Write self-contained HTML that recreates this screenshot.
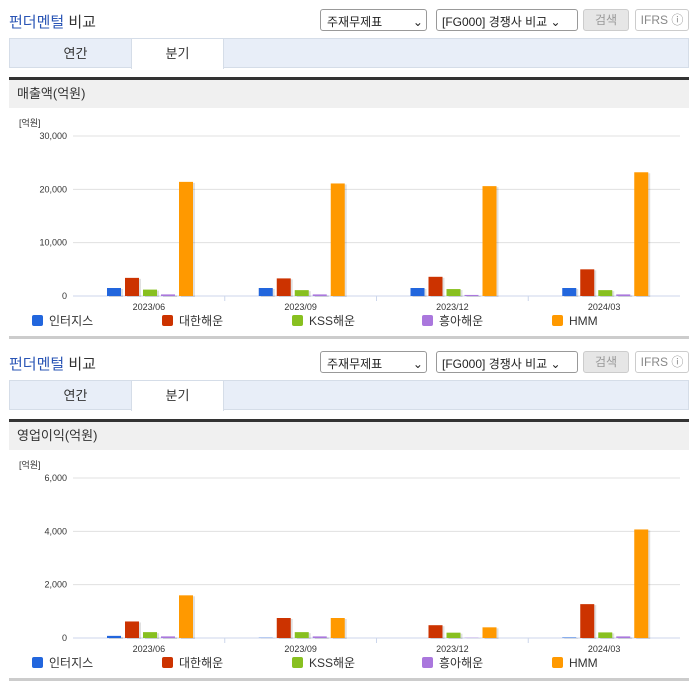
<!DOCTYPE html>
<html><head><meta charset="utf-8">
<style>
body{margin:0;width:696px;height:684px;background:#fff;font-family:"Liberation Sans","Noto Sans CJK KR",sans-serif;position:relative;overflow:hidden}
.abs{position:absolute}
.title{left:9px;font-size:15px;color:#333}
.title b{color:#2a55b5;font-weight:normal}
.sel{height:22px;border:1px solid #999;border-radius:3px;font-size:12px;color:#222;box-sizing:border-box;padding:3px 6px;background:#fff;white-space:nowrap;overflow:hidden}
.btn{height:22px;border:1px solid #ccc;border-radius:3px;font-size:12px;box-sizing:border-box;text-align:center;line-height:20px}
.tabs{left:9px;width:680px;height:30px;background:#e8eef8;border:1px solid #d5dde8;box-sizing:border-box}
.tab{top:0;height:29px;line-height:29px;font-size:13px;text-align:center;width:91px;color:#333}
.hdr{left:9px;width:672px;height:28px;background:#f0f0f0;border-top:3px solid #333;font-size:13px;line-height:28px;padding-left:8px;color:#333}
.line{left:9px;width:680px;height:3px;background:#ccc}
</style></head><body>
<div id="sections"></div>
<script>
const categories=["2023/06","2023/09","2023/12","2024/03"];
const seriesNames=["인터지스","대한해운","KSS해운","흥아해운","HMM"];
const colors=["#2266dd","#cc3300","#88c020","#aa77dd","#ff9900"];
const sales_interjis=[1500,1500,1500,1500];
const sales_daehan=[3400,3300,3600,5000];
const sales_kss=[1200,1100,1300,1100];
const sales_heunga=[300,300,200,300];
const sales_hmm=[21400,21100,20600,23200];
const salesTicks=[0,10000,20000,30000];
const op_interjis=[80,10,0,20];
const op_daehan=[620,750,480,1270];
const op_kss=[220,220,200,210];
const op_heunga=[60,60,10,60];
const op_hmm=[1600,750,400,4070];
const opTicks=[0,2000,4000,6000];

function el(tag,cls,css,txt){const e=document.createElement(tag);if(cls)e.className=cls;if(css)e.style.cssText=css;if(txt!=null)e.textContent=txt;return e;}
const root=document.getElementById('sections');
function section(off,hdrText,series,ticks,max){
 const t=el('div','abs title','top:'+(off+11)+'px');t.innerHTML='<b>펀더멘털</b> 비교';
 root.appendChild(t);
 const s1=el('div','abs sel','left:320px;top:'+(off+9)+'px;width:107px','주재무제표 　　 ⌄');
 root.appendChild(s1);
 const s2=el('div','abs sel','left:436px;top:'+(off+9)+'px;width:142px;padding-left:5px','[FG000] 경쟁사 비교 ⌄');
 root.appendChild(s2);
 const b1=el('div','abs btn','left:583px;top:'+(off+9)+'px;width:46px;background:#e6e6e6;color:#999','검색');
 root.appendChild(b1);
 const b2=el('div','abs btn','left:635px;top:'+(off+9)+'px;width:54px;color:#888','IFRS ⓘ');
 root.appendChild(b2);
 const tabs=el('div','abs tabs','top:'+(off+38)+'px');
 
 const ta=el('div','abs tab','left:20px','연간');tabs.appendChild(ta);
 const tq=el('div','abs tab','left:121px;background:#fff;height:30px;border-left:1px solid #d5dde8;border-right:1px solid #d5dde8','분기');tabs.appendChild(tq);
 root.appendChild(tabs);
 const h=el('div','abs hdr','top:'+(off+77)+'px',hdrText);root.appendChild(h);
 const NS='http://www.w3.org/2000/svg';
 const svg=document.createElementNS(NS,'svg');svg.setAttribute('width',696);svg.setAttribute('height',230);
 svg.style.cssText='position:absolute;left:0;top:'+(off+110)+'px';
 
 const y0=186,yTop=26,x0=73,x1=680;
 const ys=v=>y0-(v/max)*(y0-yTop);
 const gw=(x1-x0)/categories.length;
 function add(tag,attrs,txt){const e=document.createElementNS(NS,tag);for(const k in attrs)e.setAttribute(k,attrs[k]);if(txt!=null)e.textContent=txt;svg.appendChild(e);return e;}
 const u=add('text',{x:19,y:16,'font-size':9,fill:'#333'},'[억원]');
 
 ticks.forEach(v=>{const y=ys(v);
  const g=add('line',{x1:x0,x2:x1,y1:y,y2:y,stroke:v===0?'#ccd6eb':'#e0e0e0'});
  
  const tl=add('text',{x:67,y:y+3,'font-size':9,fill:'#333','text-anchor':'end'},v.toLocaleString('en-US'));
  });
 categories.forEach((c,i)=>{const gx=x0+gw*i;
  if(i>0){const tk=add('line',{x1:gx,x2:gx,y1:y0,y2:y0+5,stroke:'#ccd6eb'});}
  const cl=add('text',{x:gx+gw/2,y:y0+14,'font-size':9,fill:'#333','text-anchor':'middle'},c);
  
  series.forEach((arr,j)=>{const bx=gx+34+j*18;const yt=ys(arr[i]);const hgt=Math.max(y0-yt,0);
   const sh=add('rect',{x:bx+2,y:yt+1,width:14,height:hgt,fill:'#000','fill-opacity':0.12});
   
   const r=add('rect',{x:bx,y:yt,width:14,height:hgt,fill:colors[j]});
   });
 });
 const lx=[32,162,292,422,552];
 seriesNames.forEach((n,j)=>{
  const sw=add('rect',{x:lx[j],y:y0+19,width:11,height:11,rx:2,fill:colors[j]});
  
  const lt=add('text',{x:lx[j]+17,y:y0+29,'font-size':12,fill:'#333'},n);
  });
 root.appendChild(svg);
 const ln=el('div','abs line','top:'+(off+336)+'px');root.appendChild(ln);
}
section(0,'매출액(억원)',[sales_interjis,sales_daehan,sales_kss,sales_heunga,sales_hmm],salesTicks,30000);
section(342,'영업이익(억원)',[op_interjis,op_daehan,op_kss,op_heunga,op_hmm],opTicks,6000);
</script>
</body></html>
